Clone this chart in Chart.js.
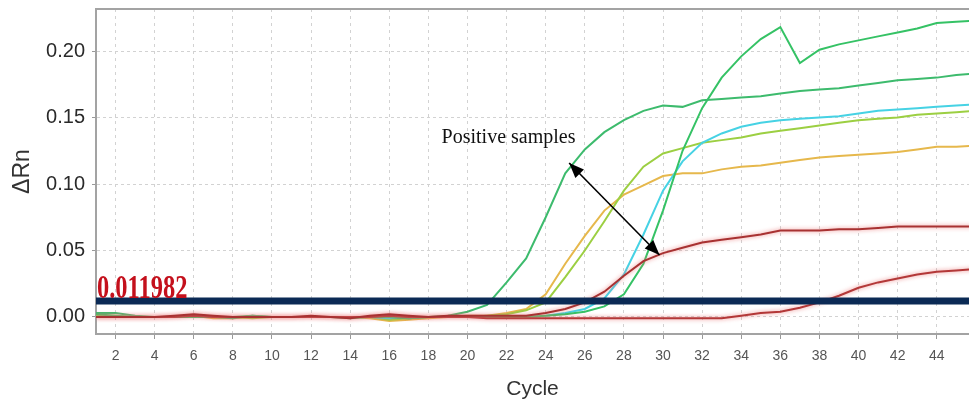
<!DOCTYPE html>
<html>
<head>
<meta charset="utf-8">
<script src="https://cdn.jsdelivr.net/npm/chart.js@4.4.0/dist/chart.umd.min.js"></script>
<style>
    html, body { margin: 0; padding: 0; background: #fff; }
    #wrap { width: 969px; height: 408px; }
</style>
</head>
<body>
<div id="wrap"><canvas id="chart" width="969" height="408"></canvas></div>
<script>
// --- DATA ---
const cycles = [1, 2, 3, 4, 5, 6, 7, 8, 9, 10, 11, 12, 13, 14, 15, 16, 17, 18, 19, 20,
    21, 22, 23, 24, 25, 26, 27, 28, 29, 30, 31, 32, 33, 34, 35, 36, 37, 38, 39, 40,
    41, 42, 43, 44, 45, 46];

const green1 = [0.003, 0.003, 0.001, 0.000, 0.000, 0.001, 0.000, -0.001, 0.001, 0.000, 0.000, 0.000, 0.000, -0.001, 0.000, 0.000, -0.001, 0.000, 0.001, 0.004,
    0.009, 0.026, 0.044, 0.075, 0.108, 0.126, 0.139, 0.148, 0.155, 0.159,
    0.158, 0.163, 0.164, 0.165, 0.166, 0.168, 0.170, 0.171, 0.172, 0.174,
    0.176, 0.178, 0.179, 0.180, 0.182, 0.183];

const green2 = [0.002, 0.001, 0.000, 0.000, 0.000, 0.000, 0.000, 0.000, 0.001, 0.000, 0.000, 0.000, 0.000, 0.000, 0.000, 0.000, -0.001, 0.000, 0.000, 0.000,
    0.000, 0.000, 0.000, 0.001, 0.002, 0.004, 0.008, 0.017, 0.040, 0.080,
    0.125, 0.157, 0.180, 0.196, 0.209, 0.218, 0.191, 0.201, 0.205, 0.208,
    0.211, 0.214, 0.217, 0.221, 0.222, 0.223];

const cyan = [0.000, 0.000, 0.000, 0.000, 0.000, 0.000, 0.000, 0.000, 0.000, 0.000, 0.000, 0.000, 0.000, 0.000, 0.000, -0.001, 0.000, 0.000, 0.000, 0.000,
    0.000, 0.000, 0.000, 0.001, 0.003, 0.006, 0.014, 0.032, 0.062, 0.095,
    0.117, 0.131, 0.138, 0.143, 0.146, 0.148, 0.149, 0.150, 0.151, 0.153,
    0.155, 0.156, 0.157, 0.158, 0.159, 0.160];

const yellowGreen = [0.001, 0.001, 0.000, 0.000, 0.000, 0.000, 0.000, 0.000, -0.001, 0.000, 0.000, 0.000, 0.000, 0.000, 0.000, -0.002, -0.001, 0.000, 0.000, 0.000,
    0.001, 0.002, 0.005, 0.011, 0.030, 0.050, 0.072, 0.095, 0.113, 0.123,
    0.127, 0.131, 0.133, 0.135, 0.138, 0.140, 0.142, 0.144, 0.146, 0.148,
    0.149, 0.150, 0.152, 0.153, 0.154, 0.155];

const orange = [0.000, 0.000, 0.000, 0.000, 0.000, 0.001, -0.001, -0.001, 0.000, 0.000, 0.000, 0.000, 0.000, 0.000, -0.001, -0.003, -0.002, -0.001, 0.000, 0.001,
    0.001, 0.003, 0.006, 0.017, 0.040, 0.061, 0.080, 0.092, 0.099, 0.106,
    0.108, 0.108, 0.111, 0.113, 0.114, 0.116, 0.118, 0.120, 0.121, 0.122,
    0.123, 0.124, 0.126, 0.128, 0.128, 0.129];

const darkRed = [0.000, 0.000, 0.000, 0.000, 0.001, 0.002, 0.001, 0.000, 0.000, 0.000, 0.000, 0.001, 0.000, -0.001, 0.001, 0.002, 0.001, 0.000, 0.001, 0.001,
    0.001, 0.001, 0.001, 0.003, 0.006, 0.011, 0.019, 0.031, 0.042, 0.048,
    0.052, 0.056, 0.058, 0.060, 0.062, 0.065, 0.065, 0.065, 0.066, 0.066,
    0.067, 0.068, 0.068, 0.068, 0.068, 0.068];

const lightRed = [0.000, 0.000, 0.000, 0.000, 0.000, 0.001, 0.000, 0.000, 0.000, 0.000, 0.000, 0.000, 0.000, 0.000, 0.000, 0.001, 0.000, 0.000, 0.000, 0.000,
    -0.001, -0.001, -0.001, -0.001, -0.001, -0.001, -0.001, -0.001, -0.001, -0.001,
    -0.001, -0.001, -0.001, 0.001, 0.003, 0.004, 0.007, 0.011, 0.016, 0.022,
    0.026, 0.029, 0.032, 0.034, 0.035, 0.036];

const threshold = 0.011982;
const thresholdSpan = [1, 46];

const xTicks = [2, 4, 6, 8, 10, 12, 14, 16, 18, 20, 22, 24, 26, 28, 30, 32, 34, 36, 38, 40, 42, 44];
const yTicks = [0.00, 0.05, 0.10, 0.15, 0.20];

// annotation: label + double arrow (data coords)
const noteText = 'Positive samples';
const notePos = [22.1, 0.135];
const arrowFrom = [25.2, 0.1158];
const arrowTo = [29.82, 0.0466];

// --- HELPERS ---
function toPoints(arr) {
    return cycles.map((c, i) => ({ x: c, y: arr[i] }));
}

function curve(data, color, glow) {
    return {
        data: toPoints(data),
        borderColor: color,
        borderWidth: 2,
        pointRadius: 0,
        tension: 0,
        fill: false,
        glow: glow || null
    };
}

// frame top line (chart.js only draws left/bottom borders)
const framePlugin = {
    id: 'frameTop',
    beforeDatasetsDraw(chart) {
        const { ctx, chartArea } = chart;
        ctx.save();
        ctx.strokeStyle = '#a3a3a3';
        ctx.lineWidth = 2;
        ctx.beginPath();
        ctx.moveTo(chartArea.left, chartArea.top);
        ctx.lineTo(chartArea.right, chartArea.top);
        ctx.stroke();
        ctx.restore();
    }
};

// soft halo round the red curves, like the blurry original
const glowPlugin = {
    id: 'glow',
    beforeDatasetDraw(chart, args) {
        const g = chart.data.datasets[args.index].glow;
        if (!g) return;
        chart.ctx.save();
        chart.ctx.shadowColor = g;
        chart.ctx.shadowBlur = 4;
    },
    afterDatasetDraw(chart, args) {
        if (chart.data.datasets[args.index].glow) chart.ctx.restore();
    }
};

function arrowHead(ctx, x1, y1, x2, y2) {
    const ang = Math.atan2(y2 - y1, x2 - x1);
    const len = 15, half = 6;
    ctx.beginPath();
    ctx.moveTo(x2, y2);
    ctx.lineTo(x2 - len * Math.cos(ang) + half * Math.sin(ang), y2 - len * Math.sin(ang) - half * Math.cos(ang));
    ctx.lineTo(x2 - len * Math.cos(ang) - half * Math.sin(ang), y2 - len * Math.sin(ang) + half * Math.cos(ang));
    ctx.closePath();
    ctx.fill();
}

const notesPlugin = {
    id: 'notes',
    afterDatasetsDraw(chart) {
        const { ctx, scales } = chart;
        const xs = scales.x, ys = scales.y;
        ctx.save();

        // threshold value label, condensed bold serif in red
        const tx = xs.getPixelForValue(thresholdSpan[0]) + 1;
        const ty = ys.getPixelForValue(threshold) - 3;
        ctx.fillStyle = '#c4101c';
        ctx.font = 'bold 34px "Liberation Serif"';
        ctx.textBaseline = 'alphabetic';
        ctx.textAlign = 'left';
        ctx.translate(tx, ty);
        ctx.scale(0.72, 1);
        ctx.fillText(threshold.toFixed(6), 0, 0);
        ctx.setTransform(1, 0, 0, 1, 0, 0);

        // annotation text
        ctx.fillStyle = '#111';
        ctx.font = '20px "Liberation Serif"';
        ctx.textAlign = 'center';
        ctx.textBaseline = 'middle';
        ctx.fillText(noteText, xs.getPixelForValue(notePos[0]), ys.getPixelForValue(notePos[1]));

        // double-headed arrow
        const x1 = xs.getPixelForValue(arrowFrom[0]), y1 = ys.getPixelForValue(arrowFrom[1]);
        const x2 = xs.getPixelForValue(arrowTo[0]), y2 = ys.getPixelForValue(arrowTo[1]);
        ctx.strokeStyle = '#000';
        ctx.fillStyle = '#000';
        ctx.lineWidth = 1.6;
        ctx.beginPath();
        ctx.moveTo(x1, y1);
        ctx.lineTo(x2, y2);
        ctx.stroke();
        arrowHead(ctx, x2, y2, x1, y1);
        arrowHead(ctx, x1, y1, x2, y2);
        ctx.restore();
    }
};

// --- CHART ---
const ctx = document.getElementById('chart').getContext('2d');
new Chart(ctx, {
    type: 'line',
    data: {
        datasets: [
            {
                data: thresholdSpan.map(c => ({ x: c, y: threshold })),
                borderColor: '#0b2a55',
                borderWidth: 7,
                pointRadius: 0
            },
            curve(darkRed, '#a83232', 'rgba(235,120,120,0.9)'),
            curve(lightRed, '#b33838', 'rgba(235,120,120,0.9)'),
            curve(green1, '#3dbb6d'),
            curve(green2, '#35c265'),
            curve(cyan, '#46d2e4'),
            curve(yellowGreen, '#9ccf42'),
            curve(orange, '#e6b84c')
        ]
    },
    options: {
        responsive: false,
        animation: false,
        devicePixelRatio: 1,
        layout: { padding: { top: 9, right: 0, left: 0, bottom: 0 } },
        plugins: {
            legend: { display: false },
            tooltip: { enabled: false }
        },
        scales: {
            x: {
                type: 'linear',
                min: 1,
                max: 45.65,
                afterBuildTicks: s => { s.ticks = xTicks.map(v => ({ value: v })); },
                afterFit: s => { s.height = 74; s.paddingLeft = 0; s.paddingRight = 0; },
                ticks: {
                    color: '#555',
                    font: { family: 'Liberation Sans', size: 14 },
                    padding: 9,
                    maxRotation: 0,
                    autoSkip: false
                },
                grid: {
                    color: '#d2d2d2',
                    tickLength: 5,
                    tickColor: '#999',
                    tickBorderDash: []
                },
                border: { color: '#a3a3a3', width: 2, dash: [3, 4] },
                title: {
                    display: true,
                    text: 'Cycle',
                    color: '#333',
                    font: { family: 'Liberation Sans', size: 21 },
                    padding: { bottom: 6 }
                }
            },
            y: {
                min: -0.0128,
                max: 0.2316,
                afterBuildTicks: s => { s.ticks = yTicks.map(v => ({ value: v })); },
                afterFit: s => { s.width = 96; s.paddingTop = 0; s.paddingBottom = 0; },
                ticks: {
                    color: '#2a2a2a',
                    font: { family: 'Liberation Sans', size: 20 },
                    padding: 7,
                    callback: v => v.toFixed(2)
                },
                grid: {
                    color: '#d2d2d2',
                    tickLength: 4,
                    tickColor: '#999',
                    tickBorderDash: []
                },
                border: { color: '#a3a3a3', width: 2, dash: [3, 3] },
                title: {
                    display: true,
                    text: 'ΔRn',
                    color: '#333',
                    font: { family: 'Liberation Sans', size: 23 },
                    padding: { top: 9 }
                }
            }
        }
    },
    plugins: [framePlugin, glowPlugin, notesPlugin]
});
</script>
</body>
</html>
